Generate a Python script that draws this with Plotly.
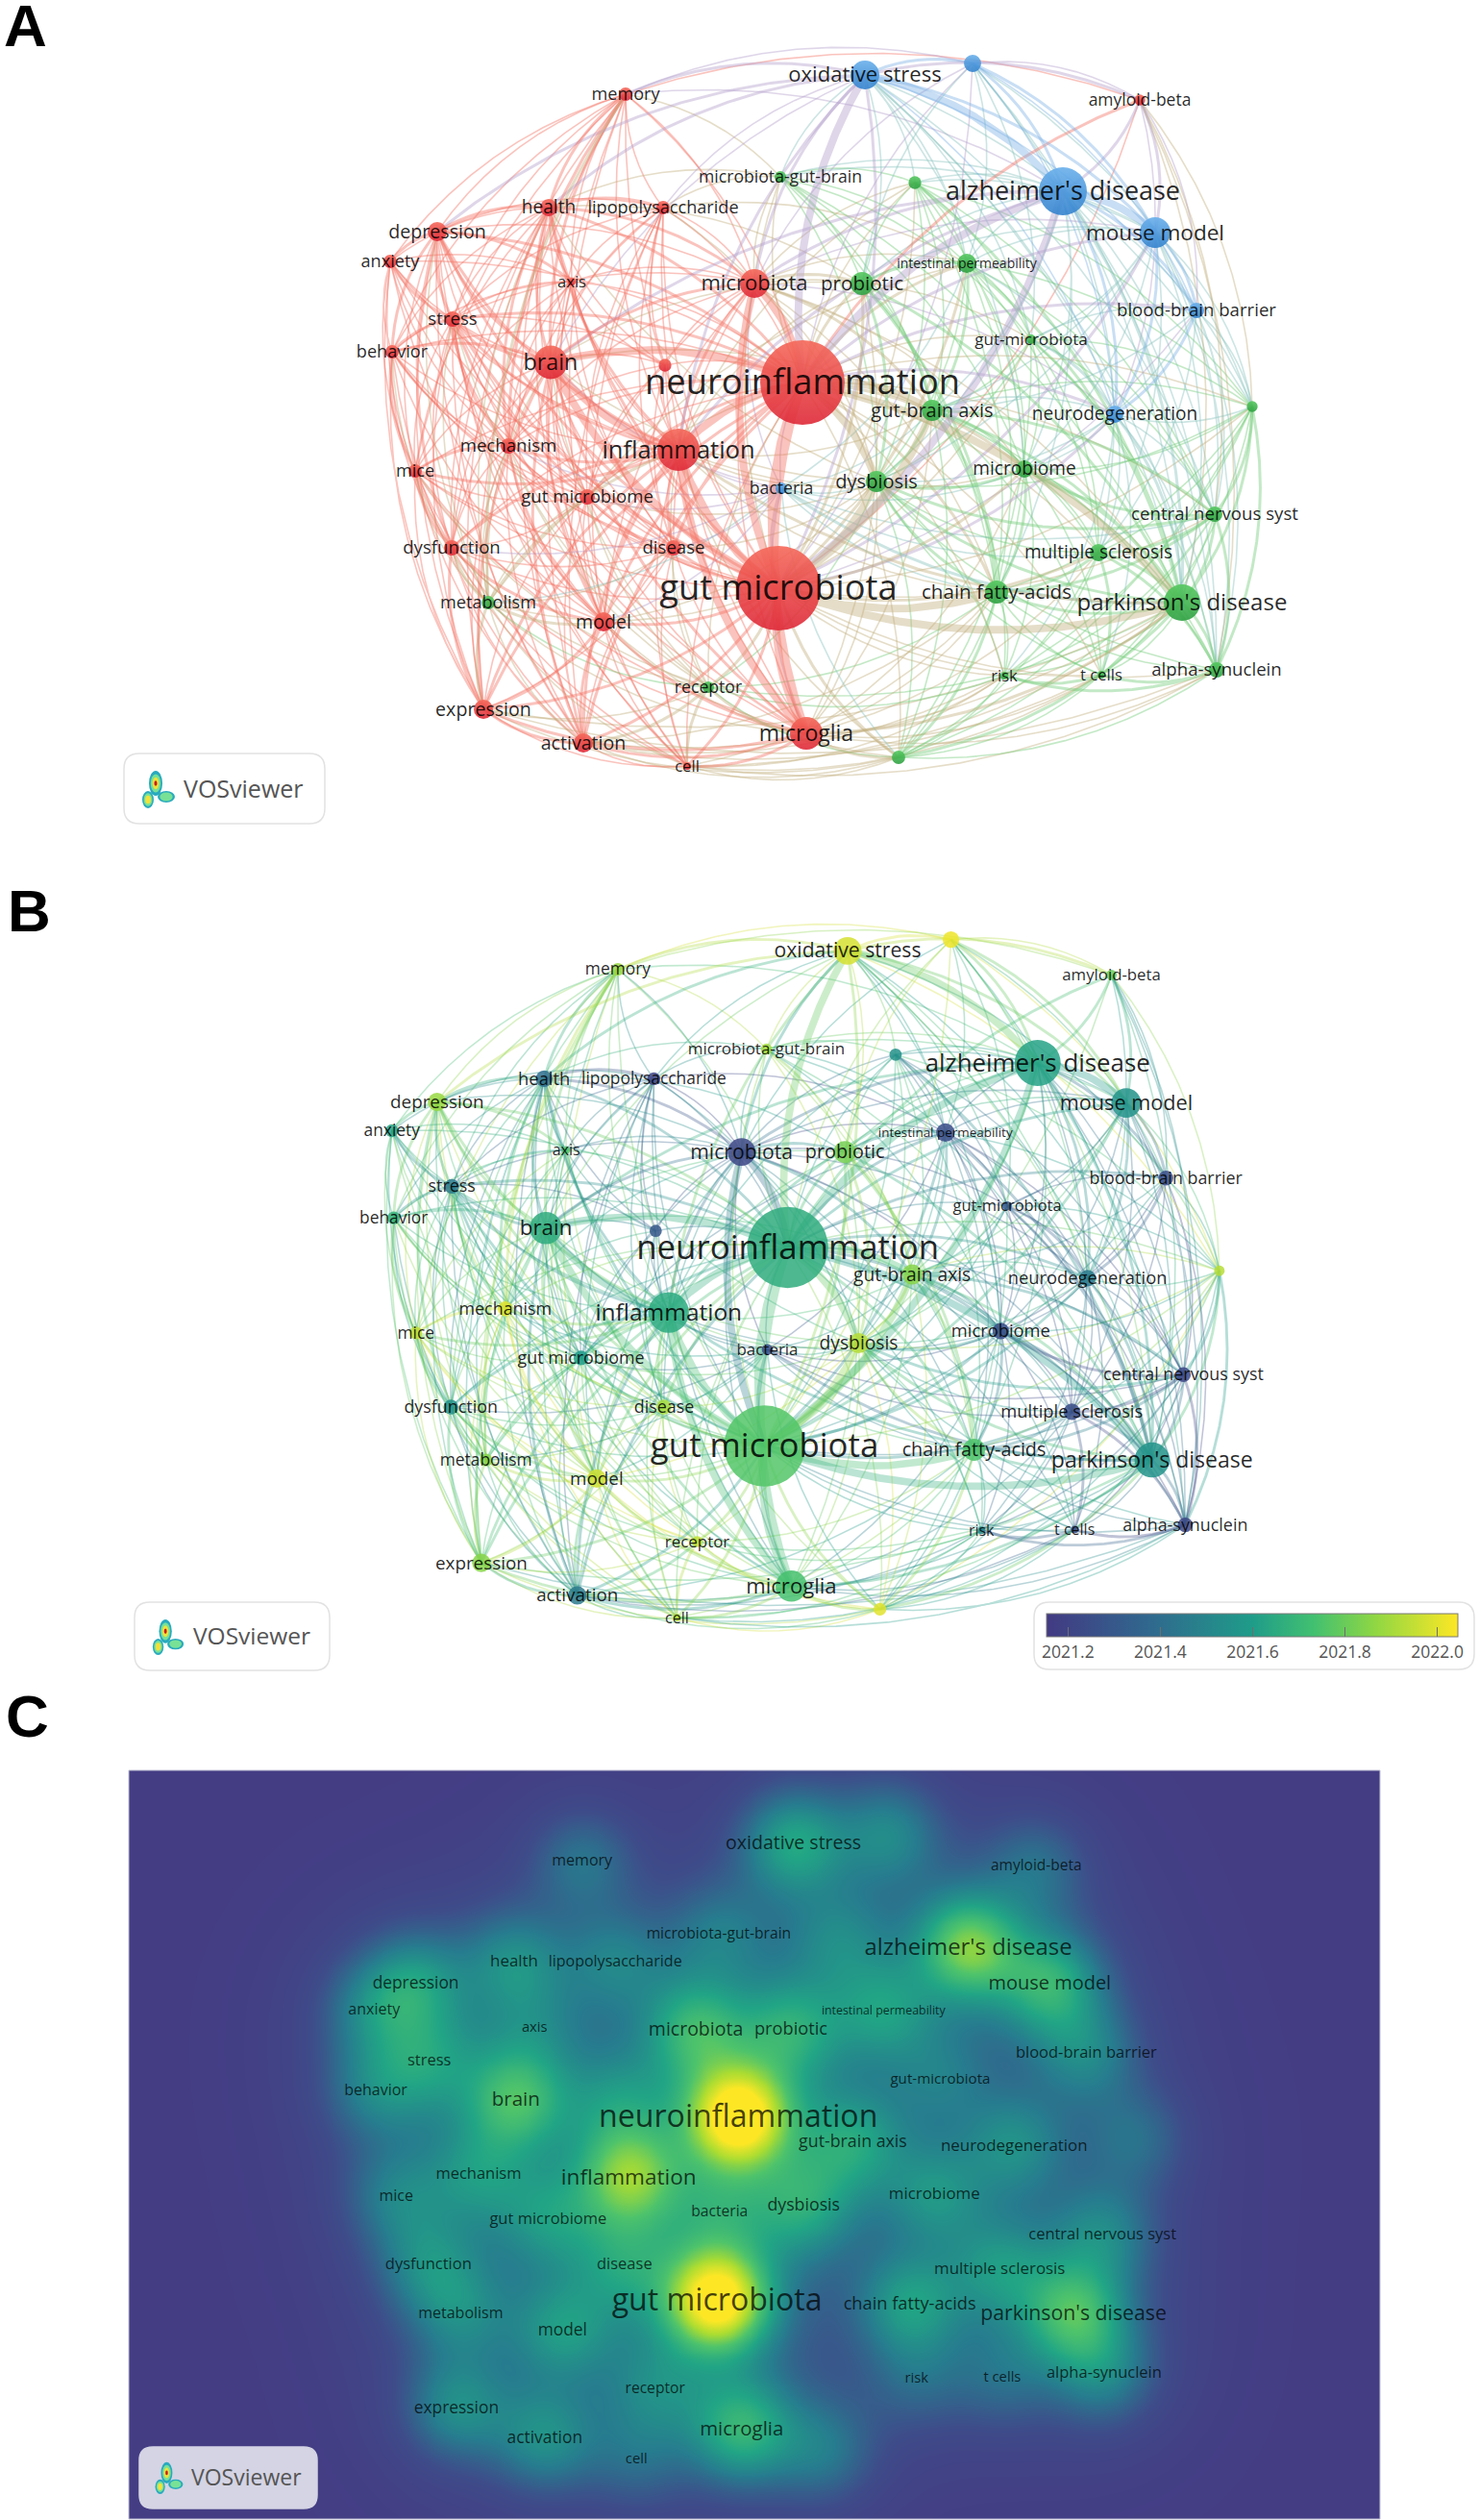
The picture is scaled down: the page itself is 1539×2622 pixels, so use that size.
import numpy as np
import plotly.graph_objects as go
from plotly.colors import sample_colorscale

W, H = 1539, 2622
FONT = 'Open Sans'

# keywords of the co-occurrence map (empty = VOSviewer hid the label)
keywords = ['neuroinflammation', 'gut microbiota', "alzheimer's disease", "parkinson's disease",
            'inflammation', 'brain', 'microglia', 'microbiota', 'oxidative stress', 'mouse model',
            'chain fatty-acids', 'probiotic', 'gut-brain axis', 'depression', 'health', 'model',
            'dysbiosis', 'expression', 'activation', 'stress', 'disease', 'microbiome',
            'neurodegeneration', 'gut microbiome', '', 'blood-brain barrier',
            'intestinal permeability', 'central nervous syst', 'multiple sclerosis', 'memory',
            'anxiety', 'behavior', 'dysfunction', 'mechanism', 'mice', 'lipopolysaccharide',
            'metabolism', 'bacteria', 'amyloid-beta', 'receptor', 'alpha-synuclein', '', '', '', '',
            'microbiota-gut-brain', 'gut-microbiota', 'axis', 'risk', 't cells', 'cell']
map_x = [835, 810, 1106, 1230, 706, 573, 839, 785, 900, 1202, 1037, 897, 970, 455, 571, 628,
         912, 503, 607, 471, 701, 1066, 1160, 611, 1012, 1245, 1006, 1264, 1143, 651,
         406, 408, 470, 529, 432, 690, 508, 813, 1186, 737, 1266, 935, 1303, 952, 692,
         812, 1073, 595, 1045, 1146, 715]
map_y = [398, 612, 199, 627, 468, 377, 763, 295, 78, 242, 616, 295, 427, 241, 216, 647,
         501, 738, 773, 332, 570, 488, 431, 517, 66, 323, 274, 535, 575, 98,
         272, 366, 570, 464, 490, 216, 627, 508, 104, 715, 697, 788, 423, 190, 380,
         184, 353, 293, 703, 702, 797]
occurrences = [484, 484, 156, 90, 121, 76, 72, 56, 56, 64, 36, 36, 30, 25, 20, 25,
               30, 25, 25, 16, 16, 20, 20, 16, 20, 16, 25, 16, 20, 12,
               12, 12, 16, 16, 12, 12, 12, 9, 8, 9, 16, 12, 8, 11, 11,
               9, 6, 4, 4, 4, 4]
avg_year = [2021.66, 2021.76, 2021.62, 2021.56, 2021.65, 2021.66, 2021.74, 2021.22, 2021.98, 2021.56,
            2021.75, 2021.82, 2021.85, 2021.88, 2021.4, 2021.97, 2021.93, 2021.85, 2021.45, 2021.45,
            2021.9, 2021.25, 2021.45, 2021.6, 2022.02, 2021.25, 2021.25, 2021.22, 2021.25, 2021.88,
            2021.62, 2021.68, 2021.55, 2022.0, 2021.95, 2021.2, 2021.85, 2021.25, 2021.8, 2021.95,
            2021.22, 2022.0, 2021.93, 2021.55, 2021.3, 2021.9, 2021.3, 2021.75, 2021.5, 2021.25, 2021.93]
cluster = list('rrbgrrrrbbgggrrrgrrrrgbrbbgggrrrrrrrgbrgggggrggrggr')

# links read by eye, node -> partners
strong_links = {0: [1, 4, 5, 7, 6, 2, 3, 8, 16, 12], 1: [4, 5, 7, 6, 2, 3, 10, 16, 12],
                2: [9, 8], 4: [6, 5]}
medium_links = {0: [9, 10, 11, 13, 14, 15, 19, 20, 23, 17, 18, 22, 21, 25, 26, 38],
                1: [8, 9, 11, 13, 14, 15, 17, 18, 19, 20, 21, 22, 23, 26, 28, 37, 39, 41, 50],
                2: [3, 22, 25, 38, 24, 4, 5, 7],
                3: [10, 22, 28, 40, 27, 21, 16, 4, 6, 12, 42, 41, 46, 11, 26, 43, 37],
                4: [7, 8, 13, 14, 15, 17, 18, 19, 20, 33, 32, 36, 34],
                5: [13, 14, 19, 31, 7, 6, 15, 17, 18, 29, 33],
                6: [18, 17, 39, 50, 41, 15],
                8: [9, 24, 38, 29, 13, 14, 7], 9: [25, 38, 24, 22],
                10: [16, 12, 21, 11, 28, 27, 41], 11: [12, 16, 7, 26], 12: [16, 21, 26, 7, 27],
                13: [19, 30, 14, 47, 31, 32], 14: [29, 35, 33, 7],
                15: [32, 18, 17, 33], 17: [18, 32, 36], 19: [31, 30, 33], 21: [16, 27],
                22: [25, 46], 27: [28, 40, 16, 42], 28: [40, 49], 29: [33, 36], 32: [36, 34], 33: [34],
                34: [31], 36: [15], 39: [50, 18], 40: [48, 49, 42], 48: [49]}
thin_links = {29: [13, 19, 30, 31, 47, 35, 45, 7, 4, 15, 17, 18, 34, 24, 2, 0, 1, 32],
              30: [14, 47, 33, 34, 31, 32, 17, 4, 0, 1, 15, 23],
              31: [14, 47, 33, 32, 36, 17, 18, 4, 0, 1, 15, 23, 20],
              13: [33, 34, 23, 15, 35, 7, 20, 17, 18, 36],
              14: [47, 19, 23, 20, 15, 32, 34, 36, 17, 18, 45, 11, 16],
              35: [47, 7, 44, 4, 5, 23, 33, 19, 20, 15, 6, 45, 26, 16, 18],
              45: [7, 11, 12, 16, 26, 43, 21, 10, 2, 9, 46, 3],
              43: [11, 12, 16, 21, 26, 46, 10, 27, 42, 7, 4, 2],
              26: [16, 21, 46, 10, 27, 28, 37, 22, 42, 7, 23],
              7: [44, 47, 23, 37, 16, 21, 20, 15, 33, 19, 13, 6, 3, 9, 46, 22, 10],
              44: [4, 5, 19, 47, 14, 33, 23, 20, 6],
              47: [19, 33, 23, 32, 34, 20, 15],
              19: [23, 32, 34, 36, 15, 17, 18, 20, 6, 50, 39],
              33: [23, 32, 36, 20, 17, 18, 39, 50, 6, 37],
              34: [23, 36, 15, 17, 18, 20, 39, 6, 50],
              23: [32, 20, 15, 36, 17, 18, 39, 37, 6, 50, 16],
              32: [20, 17, 18, 39, 6, 50, 37],
              36: [20, 17, 18, 39, 6, 50, 37],
              20: [15, 17, 18, 39, 50, 6, 37, 16],
              15: [39, 50, 41, 37, 16],
              17: [39, 50, 6, 41, 40, 3],
              18: [50, 39, 41, 3, 49, 48, 10],
              50: [41, 3, 48, 49, 10, 40],
              39: [41, 16, 10, 3, 48],
              37: [16, 12, 21, 10, 28, 41, 27],
              41: [48, 49, 40, 21, 12, 16, 28, 27, 42, 46],
              16: [46, 28, 48, 49, 40, 42, 22],
              12: [46, 22, 28, 42, 40, 48, 49, 25],
              21: [46, 22, 28, 48, 49, 40, 42, 25],
              46: [25, 9, 27, 42, 28, 40, 24, 8],
              22: [27, 28, 40, 42, 38, 24, 8, 49, 48],
              25: [27, 42, 28, 40, 38, 24, 8, 21],
              27: [48, 49],
              28: [42, 48, 10],
              42: [10, 48, 49],
              24: [38, 42, 3, 40, 7, 11, 26],
              38: [42, 40, 27, 3, 29],
              8: [43, 45, 26, 11, 21, 3, 40, 27, 42, 35, 5],
              2: [43, 45, 26, 11, 12, 21, 27, 42, 40, 28, 16, 10],
              9: [43, 26, 21, 27, 42, 40, 28, 3, 11, 12, 16],
              3: [48, 49],
              10: [48, 49, 40],
              0: [29, 30, 31, 32, 33, 34, 35, 36, 37, 39, 41, 42, 43, 44, 45, 46, 47, 48, 49, 50, 24, 27, 28],
              1: [24, 25, 27, 29, 30, 31, 32, 33, 34, 35, 36, 38, 40, 42, 43, 45, 46, 47, 48, 49],
              4: [10, 11, 12, 16, 21, 23, 29, 30, 31, 35, 37, 39, 41, 44, 47, 50],
              5: [11, 12, 16, 20, 23, 30, 32, 34, 36, 37, 39, 47, 50],
              6: [10, 11, 12, 16, 20, 23, 36, 37, 21, 28, 40, 48, 49]}

year_ticks = [2021.2, 2021.4, 2021.6, 2021.8, 2022.0]
year_min, year_max = 2021.154, 2022.045

viridis = [[0, 'rgb(66,58,131)'], [0.25, 'rgb(48,104,142)'], [0.5, 'rgb(31,156,137)'],
           [0.65, 'rgb(66,192,112)'], [0.8, 'rgb(144,215,67)'], [1, 'rgb(253,231,37)']]
density_scale = [[0, 'rgb(68,61,132)'], [0.12, 'rgb(62,76,138)'], [0.3, 'rgb(38,125,142)'],
                 [0.48, 'rgb(33,165,133)'], [0.65, 'rgb(78,195,107)'], [0.82, 'rgb(170,220,50)'],
                 [1, 'rgb(253,231,37)']]
node_colors = {'r': 'rgb(222,40,55)', 'g': 'rgb(45,160,65)', 'b': 'rgb(50,130,205)'}
node_tops = {'r': 'rgb(245,105,90)', 'g': 'rgb(85,200,95)', 'b': 'rgb(105,175,235)'}
link_colors = {'r': 'rgb(245,115,100)', 'g': 'rgb(115,205,120)', 'b': 'rgb(125,178,230)',
               'gr': 'rgb(195,175,125)', 'br': 'rgb(180,160,205)', 'bg': 'rgb(135,195,190)'}

xs = np.array(map_x, dtype=float)
ys = np.array(map_y, dtype=float)
radius = 2 * np.sqrt(np.array(occurrences, dtype=float))
label_size = 1.09 * (13.5 + 0.45 * radius)
label_size[keywords.index('intestinal permeability')] = 14

# merge the lists, the strongest reading of a pair wins
links = {}
for strength, table in [(1, thin_links), (2, medium_links), (3, strong_links)]:
    for a, partners in table.items():
        for b in partners:
            links[(min(a, b), max(a, b))] = strength


def curve(a, b):
    # links bow away from the middle of the map, as in VOSviewer
    p0, p1 = np.array([xs[a], ys[a]]), np.array([xs[b], ys[b]])
    mid = (p0 + p1) / 2
    d = p1 - p0
    perp = np.array([-d[1], d[0]])
    if np.dot(perp, mid - np.array([840, 430])) < 0:
        perp = -perp
    ctrl = mid + 0.17 * perp
    t = np.linspace(0, 1, 11)[:, None]
    pts = (1 - t) ** 2 * p0 + 2 * t * (1 - t) * ctrl + t ** 2 * p1
    return pts[:, 0].tolist(), pts[:, 1].tolist()


def add_links(fig, xaxis, yaxis, color_of, scale, opacity):
    widths = {1: 1.6, 2: 3.0, 3: 8.0}
    groups = {}
    for (a, b), s in sorted(links.items(), key=lambda kv: kv[1]):
        key = (s, color_of(a, b), a)
        gx, gy = groups.setdefault(key, ([], []))
        cx, cy = curve(a, b)
        gx += cx + [None]
        gy += cy + [None]
    for (s, color, a), (gx, gy) in groups.items():
        fig.add_trace(go.Scatter(x=gx, y=gy, mode='lines', xaxis=xaxis, yaxis=yaxis,
                                 line=dict(color=color, width=widths[s] * scale),
                                 opacity=opacity, hoverinfo='skip', showlegend=False))


def cluster_link(a, b):
    return link_colors[''.join(sorted(set(cluster[a] + cluster[b])))]


def year_link(a, b):
    y = round(((avg_year[a] + avg_year[b]) / 2 - year_min) / (year_max - year_min) * 14) / 14
    return sample_colorscale(viridis, [min(max(y, 0), 1)])[0]


def add_labels(fig, xaxis, yaxis, scale, color):
    # plotly sets text a little high, nudge it back onto the node
    fig.add_trace(go.Scatter(x=xs, y=ys + 0.09 * label_size, mode='text', text=keywords, xaxis=xaxis, yaxis=yaxis,
                             textposition='middle center',
                             textfont=dict(family=FONT, size=(label_size * scale).tolist(), color=color),
                             hoverinfo='skip', showlegend=False))


fig = go.Figure()

# A: clusters
add_links(fig, 'x', 'y', cluster_link, 1, 0.42)
fig.add_trace(go.Scatter(x=xs, y=ys, mode='markers', xaxis='x', yaxis='y', hoverinfo='skip', showlegend=False,
                         marker=dict(size=(2 * radius).tolist(), color=[node_tops[c] for c in cluster],
                                     gradient=dict(type='vertical', color=[node_colors[c] for c in cluster]),
                                     opacity=0.9, line_width=0)))
add_labels(fig, 'x', 'y', 1, 'rgba(0,0,0,0.85)')

# B: average publication year
add_links(fig, 'x2', 'y2', year_link, 0.96, 0.32)
fig.add_trace(go.Scatter(x=xs, y=ys, mode='markers', xaxis='x2', yaxis='y2', hoverinfo='skip', showlegend=False,
                         marker=dict(size=(2 * 0.96 * radius).tolist(), color=avg_year,
                                     coloraxis='coloraxis', opacity=0.85, line_width=0)))
add_labels(fig, 'x2', 'y2', 0.96, 'rgba(0,0,0,0.85)')

# C: item density, a narrow and a wide kernel round every node
grid_x = np.arange(110, 1600, 6.0)
grid_y = np.arange(-14, 876, 6.0)
gx, gy = np.meshgrid(grid_x, grid_y)
density = np.zeros_like(gx)
for x0, y0, r in zip(xs, ys, radius):
    d2 = (gx - x0) ** 2 + (gy - y0) ** 2
    density += r ** 0.8 * (np.exp(-d2 / (2 * 42.0 ** 2)) + 0.18 * np.exp(-d2 / (2 * 90.0 ** 2)))
fig.add_trace(go.Heatmap(x=grid_x, y=grid_y, z=density, xaxis='x3', yaxis='y3', zsmooth='best',
                         colorscale=density_scale, zmin=0, zmax=24, showscale=False, hoverinfo='skip'))
add_labels(fig, 'x3', 'y3', 0.885, 'rgba(0,0,0,0.72)')

# page level overlay for the letters, logos and legend box
fig.add_trace(go.Scatter(x=[0, W], y=[0, H], mode='markers', xaxis='x4', yaxis='y4',
                         marker_opacity=0, hoverinfo='skip', showlegend=False))


def round_box(x0, y0, x1, y1, r, fill, line):
    path = (f'M{x0 + r},{y0} L{x1 - r},{y0} Q{x1},{y0} {x1},{y0 + r} L{x1},{y1 - r} Q{x1},{y1} {x1 - r},{y1} '
            f'L{x0 + r},{y1} Q{x0},{y1} {x0},{y1 - r} L{x0},{y0 + r} Q{x0},{y0} {x0 + r},{y0} Z')
    return dict(type='path', path=path, xref='x4', yref='y4', fillcolor=fill, line=dict(color=line, width=1.5))


def ellipse(cx, cy, rx, ry, fill):
    return dict(type='circle', xref='x4', yref='y4', x0=cx - rx, x1=cx + rx, y0=cy - ry, y1=cy + ry,
                fillcolor=fill, line_width=0)


def logo(cx, cy, k):
    # three blobs of the VOSviewer mark
    parts = []
    for bx, by, rx, ry, rings in [(-3, -6, 7, 13, 3), (-11, 11, 6, 9, 2), (8, 8, 9, 6, 1)]:
        fills = ['rgb(40,170,190)', 'rgb(120,225,150)', 'rgb(240,225,60)', 'rgb(200,30,20)']
        for i in range(rings + 1):
            f = 1 - i * 0.26
            parts.append(ellipse(cx + k * bx, cy + k * by, k * rx * f, k * ry * f, fills[i]))
    return parts


shapes = [round_box(129, 784, 338, 857, 16, 'white', 'rgb(226,226,226)'),
          round_box(140, 1667, 343, 1738, 16, 'white', 'rgb(226,226,226)'),
          round_box(1076, 1667, 1534, 1737, 16, 'white', 'rgb(226,226,226)'),
          round_box(145, 2546, 330, 2610, 14, 'rgb(212,212,228)', 'rgb(212,212,228)'),
          dict(type='rect', xref='x4', yref='y4', x0=134, x1=1436, y0=1842, y1=2621,
               line=dict(color='rgb(190,190,210)', width=1))]
shapes += logo(165, 821, 1.0) + logo(175, 1703, 0.95) + logo(176, 2578, 0.85)

annotations = []
for text, x, y in [('A', 2, 26), ('B', 6, 947), ('C', 4, 1785)]:
    annotations.append(dict(text=text, x=x, y=y, xref='x4', yref='y4', xanchor='left', yanchor='middle',
                            showarrow=False, font=dict(family='Liberation Sans', size=62, color='black', weight='bold')))
for x, y, size in [(189, 820, 25), (199, 1701, 24.5), (197, 2577, 23)]:
    annotations.append(dict(text='VOSviewer', x=x, y=y, xref='x4', yref='y4', xanchor='left', yanchor='middle',
                            showarrow=False, font=dict(family=FONT, size=size, color='rgb(85,85,85)')))


def hidden(domain, rng):
    return dict(domain=domain, range=rng, visible=False, fixedrange=True)


def xdom(x0, x1):
    return [x0 / W, x1 / W]


def ydom(y0, y1):
    return [1 - y1 / H, 1 - y0 / H]


fig.update_layout(
    width=W, height=H, autosize=False, margin=dict(l=0, r=0, t=0, b=0),
    paper_bgcolor='white', plot_bgcolor='rgba(0,0,0,0)', showlegend=False,
    xaxis=hidden(xdom(0, W), [0, W]),
    yaxis=hidden(ydom(0, 880), [880, 0]),
    xaxis2=hidden(xdom(18, W), [0, (W - 18) / 0.96]),
    yaxis2=hidden(ydom(914, 1702), [(1700 - 912) / 0.965, 0]),
    xaxis3=hidden(xdom(134, 1436), [117, 1591]),
    yaxis3=hidden(ydom(1842, 2621), [868, -7]),
    xaxis4=hidden([0, 1], [0, W]),
    yaxis4=hidden([0, 1], [H, 0]),
    shapes=shapes, annotations=annotations,
    coloraxis=dict(colorscale=viridis, cmin=year_min, cmax=year_max,
                   colorbar=dict(orientation='h', x=1303.25 / W, xanchor='center', y=1 - 1679 / H, yanchor='top',
                                 lenmode='pixels', len=428, thicknessmode='pixels', thickness=24,
                                 xpad=0, ypad=0, tickvals=year_ticks, ticktext=[f'{t:.1f}' for t in year_ticks],
                                 ticks='inside', ticklen=10, tickcolor='rgb(110,110,110)',
                                 outlinecolor='rgb(120,120,120)', outlinewidth=1,
                                 tickfont=dict(family=FONT, size=17.5, color='rgb(85,85,85)'))),
)

# the page's default 8px body margin would push the figure off the window
fig.write_html("out.html", config={'displayModeBar': False},
               post_script="document.body.style.margin='0';document.body.style.overflow='hidden';")
